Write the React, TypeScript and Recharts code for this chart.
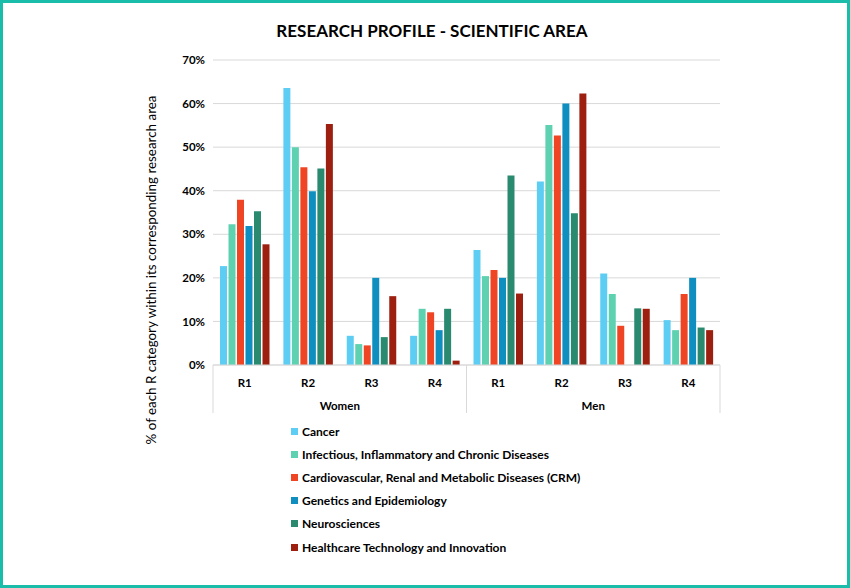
import React from "react";
import { BarChart, Bar, XAxis, YAxis, CartesianGrid } from "recharts";

const categories = ["R1", "R2", "R3", "R4", "R1", "R2", "R3", "R4"];
const groups = ["Women", "Women", "Women", "Women", "Men", "Men", "Men", "Men"];
const yTicks = [0, 10, 20, 30, 40, 50, 60, 70];

const cancer = [22.7, 63.6, 6.7, 6.7, 26.4, 42.1, 21.0, 10.3];
const infectious = [32.3, 50.0, 4.8, 12.9, 20.4, 55.1, 16.3, 8.0];
const crm = [37.9, 45.4, 4.5, 12.1, 21.8, 52.7, 9.0, 16.3];
const genetics = [31.9, 39.9, 20.0, 8.0, 20.0, 60.0, 0, 20.0];
const neuro = [35.3, 45.1, 6.4, 12.9, 43.5, 34.8, 13.0, 8.6];
const healthcare = [27.7, 55.3, 15.8, 1.0, 16.4, 62.3, 12.9, 8.0];

const series = [
  { key: "cancer", name: "Cancer", values: cancer, color: "#5ECDF3" },
  { key: "infectious", name: "Infectious, Inflammatory and Chronic Diseases", values: infectious, color: "#5ED1B1" },
  { key: "crm", name: "Cardiovascular, Renal and Metabolic Diseases (CRM)", values: crm, color: "#F04524" },
  { key: "genetics", name: "Genetics and Epidemiology", values: genetics, color: "#0F8FC0" },
  { key: "neuro", name: "Neurosciences", values: neuro, color: "#2A8A6F" },
  { key: "healthcare", name: "Healthcare Technology and Innovation", values: healthcare, color: "#9C1F0F" },
];

const data = categories.map((name, i) => {
  const row: any = { name, group: groups[i] };
  series.forEach((s) => (row[s.key] = s.values[i]));
  return row;
});

const W = 850;
const H = 588;
const margin = { top: 60, right: 130, left: 153, bottom: 175 };
const Y_W = 60;
const PLOT_BOTTOM = H - margin.bottom - 48;
const band = (W - margin.left - Y_W - margin.right) / categories.length;
const FONT = "Lato, 'Open Sans', sans-serif";

const CategoryTick = (props: any) => {
  const { x, payload, index } = props;
  const last = categories.length - 1;
  return (
    <g>
      <text x={x} y={PLOT_BOTTOM + 22} textAnchor="middle" fontSize={11.5} fontWeight={700} fill="#000" fontFamily={FONT}>
        {payload.value}
      </text>
      {index % 4 === 1 && (
        <text x={x + band / 2} y={PLOT_BOTTOM + 45} textAnchor="middle" fontSize={11.5} fontWeight={700} fill="#000" fontFamily={FONT}>
          {groups[index]}
        </text>
      )}
      {index % 4 === 0 && (
        <line x1={x - band / 2} x2={x - band / 2} y1={PLOT_BOTTOM} y2={PLOT_BOTTOM + 48} stroke="#d9d9d9" />
      )}
      {index === last && (
        <line x1={x + band / 2} x2={x + band / 2} y1={PLOT_BOTTOM} y2={PLOT_BOTTOM + 48} stroke="#d9d9d9" />
      )}
    </g>
  );
};

const App = () => {
  return (
    <div style={{ position: "absolute", left: 0, top: 0, width: W, height: H, background: "#fff", fontFamily: FONT }}>
      <div
        style={{
          position: "absolute",
          top: 20,
          left: 0,
          width: 864,
          textAlign: "center",
          fontSize: 17,
          fontWeight: 700,
          color: "#000",
        }}
      >
        RESEARCH PROFILE - SCIENTIFIC AREA
      </div>
      <div
        style={{
          position: "absolute",
          left: 151,
          top: 270,
          transform: "translate(-50%, -50%) rotate(-90deg)",
          whiteSpace: "nowrap",
          fontSize: 13.4,
          color: "#000",
        }}
      >
        % of each R category within its corresponding research area
      </div>
      <BarChart
        width={W}
        height={H}
        data={data}
        margin={margin}
        barSize={7}
        barGap={1.5}
        style={{ position: "absolute", left: 0, top: 0 }}
      >
        <CartesianGrid vertical={false} stroke="#d9d9d9" />
        <XAxis
          dataKey="name"
          interval={0}
          height={48}
          tickLine={false}
          axisLine={{ stroke: "#d9d9d9" }}
          tick={<CategoryTick />}
        />
        <YAxis
          width={Y_W}
          domain={[0, 70]}
          ticks={yTicks}
          tickFormatter={(v: number) => `${v}%`}
          tickLine={false}
          axisLine={false}
          tick={{ fontSize: 11.5, fontWeight: 700, fill: "#000", fontFamily: FONT }}
        />
        {series.map((s) => (
          <Bar key={s.key} dataKey={s.key} name={s.name} fill={s.color} isAnimationActive={false} />
        ))}
      </BarChart>
      <div style={{ position: "absolute", left: 291, top: 420 }}>
        {series.map((s) => (
          <div key={s.key} style={{ display: "flex", alignItems: "center", height: 23.1, fontSize: 12, fontWeight: 700, color: "#000" }}>
            <span style={{ display: "inline-block", width: 7, height: 7, background: s.color, marginRight: 4 }} />
            {s.name}
          </div>
        ))}
      </div>
      <div
        style={{
          position: "absolute",
          inset: 0,
          border: "3px solid #1ABDA9",
          boxSizing: "border-box",
          pointerEvents: "none",
        }}
      />
    </div>
  );
};

export default App;
